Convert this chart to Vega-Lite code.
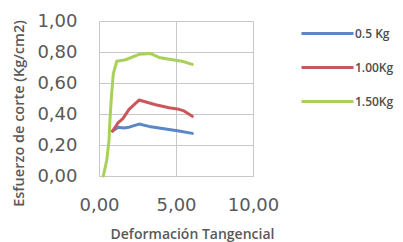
{
  "$schema": "https://vega.github.io/schema/vega-lite/v6.json",
  "autosize": "none",
  "width": 154,
  "height": 155,
  "padding": {"left": 99, "top": 21, "right": 150, "bottom": 66},
  "background": "white",
  "config": {
    "view": {"stroke": "#c8c8c8", "strokeWidth": 1},
    "axis": {"gridColor": "#c8c8c8", "gridWidth": 1, "domain": false, "ticks": false}
  },
  "data": {"values": [
    {"series": "0.5 Kg", "x": 0.88, "y": 0.29},
    {"series": "0.5 Kg", "x": 1.25, "y": 0.315},
    {"series": "0.5 Kg", "x": 1.6, "y": 0.31},
    {"series": "0.5 Kg", "x": 1.95, "y": 0.315},
    {"series": "0.5 Kg", "x": 2.6, "y": 0.335},
    {"series": "0.5 Kg", "x": 3.25, "y": 0.32},
    {"series": "0.5 Kg", "x": 4.33, "y": 0.303},
    {"series": "0.5 Kg", "x": 5.19, "y": 0.29},
    {"series": "0.5 Kg", "x": 6.06, "y": 0.275},
    {"series": "1.00Kg", "x": 0.88, "y": 0.29},
    {"series": "1.00Kg", "x": 1.25, "y": 0.345},
    {"series": "1.00Kg", "x": 1.55, "y": 0.37},
    {"series": "1.00Kg", "x": 1.95, "y": 0.43},
    {"series": "1.00Kg", "x": 2.6, "y": 0.49},
    {"series": "1.00Kg", "x": 3.68, "y": 0.46},
    {"series": "1.00Kg", "x": 4.55, "y": 0.44},
    {"series": "1.00Kg", "x": 5.19, "y": 0.43},
    {"series": "1.00Kg", "x": 5.52, "y": 0.42},
    {"series": "1.00Kg", "x": 6.06, "y": 0.385},
    {"series": "1.50Kg", "x": 0.28, "y": 0.0},
    {"series": "1.50Kg", "x": 0.5, "y": 0.1},
    {"series": "1.50Kg", "x": 0.65, "y": 0.23},
    {"series": "1.50Kg", "x": 0.71, "y": 0.36},
    {"series": "1.50Kg", "x": 0.82, "y": 0.53},
    {"series": "1.50Kg", "x": 0.93, "y": 0.66},
    {"series": "1.50Kg", "x": 1.15, "y": 0.74},
    {"series": "1.50Kg", "x": 1.73, "y": 0.75},
    {"series": "1.50Kg", "x": 2.6, "y": 0.785},
    {"series": "1.50Kg", "x": 3.35, "y": 0.79},
    {"series": "1.50Kg", "x": 3.9, "y": 0.765},
    {"series": "1.50Kg", "x": 4.76, "y": 0.75},
    {"series": "1.50Kg", "x": 5.4, "y": 0.74},
    {"series": "1.50Kg", "x": 6.06, "y": 0.72}
  ]},
  "mark": {"type": "line", "strokeWidth": 3, "strokeCap": "round", "strokeJoin": "round"},
  "encoding": {
    "x": {
      "field": "x", "type": "quantitative",
      "scale": {"domain": [0, 10], "nice": false},
      "axis": {
        "values": [0, 5, 10],
        "labelFlush": false,
        "labelExpr": "replace(format(datum.value, '.2f'), '.', ',')",
        "labelFont": "DejaVu Sans", "labelFontSize": 18, "labelColor": "#595959",
        "labelPadding": 20, "labelBaseline": "top",
        "title": "Deformación Tangencial",
        "titleFont": "Open Sans", "titleFontSize": 14, "titleFontWeight": 600, "titleColor": "#595959",
        "titleX": 93, "titleY": 58, "titleAnchor": null, "titleAlign": "center", "titleBaseline": "middle"
      }
    },
    "y": {
      "field": "y", "type": "quantitative",
      "scale": {"domain": [0, 1], "nice": false},
      "axis": {
        "values": [0, 0.2, 0.4, 0.6, 0.8, 1.0],
        "labelExpr": "replace(format(datum.value, '.2f'), '.', ',')",
        "labelFont": "DejaVu Sans", "labelFontSize": 18, "labelColor": "#595959",
        "labelPadding": 22,
        "title": "Esfuerzo de corte (Kg/cm2)",
        "titleFont": "Open Sans", "titleFontSize": 14.5, "titleFontWeight": 600, "titleColor": "#595959",
        "titleX": -80, "titleY": 92, "titleAnchor": null, "titleAlign": "center", "titleBaseline": "middle", "titleAngle": -90
      }
    },
    "color": {
      "field": "series", "type": "nominal",
      "scale": {"domain": ["0.5 Kg", "1.00Kg", "1.50Kg"], "range": ["#5b87c5", "#c9575b", "#a9d05a"]},
      "legend": {
        "orient": "none", "legendX": 201, "legendY": -15,
        "title": null,
        "symbolType": "stroke", "symbolSize": 2704, "symbolStrokeWidth": 3,
        "rowPadding": -18, "labelOffset": 0,
        "labelFont": "Open Sans", "labelFontSize": 12, "labelFontWeight": 600, "labelColor": "#4d4d4d"
      }
    }
  }
}
